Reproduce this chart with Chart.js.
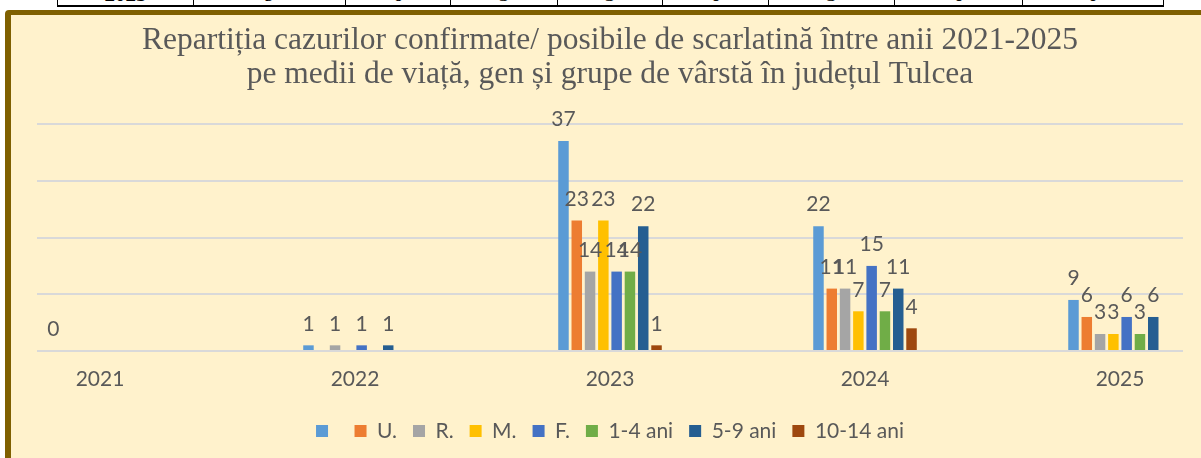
<!DOCTYPE html>
<html>
<head>
<meta charset="utf-8">
<script src="https://cdn.jsdelivr.net/npm/chart.js@4.4.0/dist/chart.umd.min.js"></script>
<style>
  html, body { margin: 0; padding: 0; background: #ffffff; }
  body { width: 1201px; height: 458px; overflow: hidden; position: relative; }
  #frame { position: absolute; left: 5px; top: 10px; width: 1240px; height: 490px;
           border: 6px solid #7F6000; border-top-width: 5px; border-radius: 4px;
           background: #FFF2CC; box-sizing: border-box; }
  #tbl { position: absolute; left: 0; top: 0; width: 1201px; height: 10px; overflow: hidden; }
  .cell { position: absolute; top: -30px; height: 37px; border-left: 1.5px solid #000;
          border-bottom: 2px solid #000; display: flex; align-items: flex-end; justify-content: center;
          font-family: 'Liberation Serif', serif; font-size: 21px; line-height: 1; color: #000; }
  .cell.last { border-right: 1.5px solid #000; }
  .cell.bold { font-weight: bold; }
  #c { position: absolute; left: 0; top: 0; }
</style>
</head>
<body>
<div id="tbl"></div>
<div id="frame"></div>
<canvas id="c" width="1201" height="458"></canvas>
<script>
// ---- data ----
const categories = ['2021', '2022', '2023', '2024', '2025'];
const seriesNames = ['', 'U.', 'R.', 'M.', 'F.', '1-4 ani', '5-9 ani', '10-14 ani'];
const seriesTotal   = [0,    1,    37, 22, 9];
const seriesU       = [null, null, 23, 11, 6];
const seriesR       = [null, 1,    14, 11, 3];
const seriesM       = [null, null, 23, 7,  3];
const seriesF       = [null, 1,    14, 15, 6];
const series1to4    = [null, null, 14, 7,  3];
const series5to9    = [null, 1,    22, 11, 6];
const series10to14  = [null, null, 1,  4,  null];
const yTicks = [0, 10, 20, 30, 40];

const seriesValues = [seriesTotal, seriesU, seriesR, seriesM, seriesF, series1to4, series5to9, series10to14];
const seriesColors = ['#5B9BD5', '#ED7D31', '#A5A5A5', '#FFC000', '#4472C4', '#70AD47', '#255E91', '#9E480E'];

// ---- table strip at the top (last row of the source table) ----
const colEdges = [57, 193, 345, 450, 557, 662, 768, 894, 1022, 1164];
const rowTexts = [categories[categories.length - 1]].concat(
  seriesValues.map(s => String(s[s.length - 1] ?? 0)));
const tbl = document.getElementById('tbl');
rowTexts.forEach((t, i) => {
  const d = document.createElement('div');
  d.className = 'cell' + (i === 0 ? ' bold' : '') + (i === rowTexts.length - 1 ? ' last' : '');
  d.style.left = colEdges[i] + 'px';
  d.style.width = (colEdges[i + 1] - colEdges[i]) + 'px';
  d.style.boxSizing = 'border-box';
  const s = document.createElement('span');
  s.textContent = t;
  d.appendChild(s);
  tbl.appendChild(d);
});

// ---- value labels plugin ----
const valueLabels = {
  id: 'valueLabels',
  afterDatasetsDraw(chart) {
    const ctx = chart.ctx;
    ctx.save();
    ctx.font = '21px Lato';
    ctx.fillStyle = '#595959';
    ctx.textAlign = 'center';
    ctx.textBaseline = 'middle';
    chart.data.datasets.forEach((ds, di) => {
      const meta = chart.getDatasetMeta(di);
      meta.data.forEach((el, i) => {
        const v = ds.data[i];
        if (v === null || v === undefined) return;
        ctx.fillText(String(v), el.x, el.y - 21.5);
      });
    });
    ctx.restore();
  }
};

const FONT = 'Lato';
new Chart(document.getElementById('c'), {
  type: 'bar',
  data: {
    labels: categories.map((c, i) => i),
    datasets: seriesValues.map((vals, k) => ({
      label: seriesNames[k],
      data: vals,
      backgroundColor: seriesColors[k],
      borderWidth: 0,
      categoryPercentage: 0.417,
      barPercentage: 0.79
    }))
  },
  options: {
    responsive: false,
    animation: false,
    devicePixelRatio: 1,
    layout: { padding: { left: 37, right: 18, top: 0, bottom: 6.5 } },
    plugins: {
      tooltip: { enabled: false },
      title: {
        display: true,
        text: ['Repartiția cazurilor confirmate/ posibile de scarlatină între anii 2021-2025',
               'pe medii de viață, gen și grupe de vârstă în județul Tulcea'],
        color: '#595959',
        font: { family: 'Liberation Serif', size: 31.5, weight: 'normal', lineHeight: 1.1 },
        padding: { top: 23.1, bottom: 31.7 }
      },
      legend: {
        position: 'bottom',
        labels: {
          color: '#595959',
          font: { family: FONT, size: 21 },
          boxWidth: 12,
          boxHeight: 12,
          padding: 16
        }
      }
    },
    scales: {
      x: {
        type: 'linear',
        offset: false,
        min: -0.247,
        max: categories.length - 1 + 0.247,
        grid: { display: false, drawTicks: false },
        border: { display: false },
        afterBuildTicks: s => { s.ticks = categories.map((c, i) => ({ value: i })); },
        afterFit: s => { s.height = 53.5; },
        ticks: {
          color: '#595959',
          font: { family: FONT, size: 21 },
          padding: 16,
          maxRotation: 0,
          autoSkip: false,
          callback: v => categories[v]
        }
      },
      y: {
        min: yTicks[0],
        max: yTicks[yTicks.length - 1],
        afterBuildTicks: s => { s.ticks = yTicks.map(v => ({ value: v })); },
        afterFit: s => { s.width = 0; },
        ticks: { display: false },
        grid: { color: '#D9D9D9', lineWidth: 2, drawTicks: false },
        border: { display: false }
      }
    }
  },
  plugins: [valueLabels]
});
</script>
</body>
</html>
